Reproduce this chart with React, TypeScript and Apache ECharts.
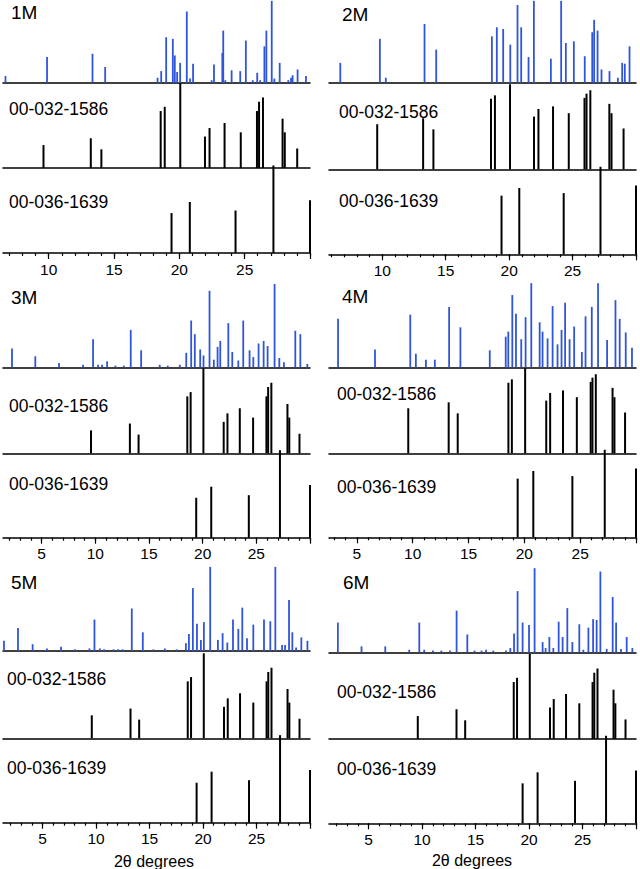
import React, { useEffect, useRef } from "react";
import * as echarts from "echarts";

// ---------------- DATA ----------------
const panelNames = ["1M", "2M", "3M", "4M", "5M", "6M"];
const refName1586 = "00-032-1586";
const refName1639 = "00-036-1639";
const axisTitle = "2θ degrees";

const xMinByPanel = [6.5, 5.8, 1.4, 2.5, 1.3, 1.3];
const xMax = 30;
const majorTickValues = [5, 10, 15, 20, 25, 30];
const tickLabelValues = [5, 10, 15, 20, 25];

// measured patterns: [2θ, relative intensity %]
const pattern1M = [
  [6.69, 8], [9.87, 31], [13.35, 35], [14.32, 19], [18.33, 6], [18.61, 14], [18.99, 55],
  [19.5, 53], [19.65, 33], [19.83, 13], [20.06, 24], [20.57, 86], [20.82, 5], [21.05, 23],
  [22.47, 3], [22.65, 22], [23.29, 36], [23.36, 63], [23.52, 3], [24.0, 15], [24.66, 14],
  [25.09, 51], [25.62, 3], [25.96, 12], [26.18, 3], [26.51, 44], [26.66, 63], [27.07, 99],
  [27.27, 5], [27.68, 24], [28.34, 3], [28.55, 6], [28.67, 9], [29.05, 16], [29.69, 8],
];
const pattern2M = [
  [6.69, 24], [9.81, 53], [10.28, 6], [13.33, 71], [14.25, 40], [18.64, 56], [19.03, 67],
  [19.53, 65], [20.09, 46], [20.66, 94], [20.95, 67], [21.53, 31], [21.95, 99], [23.29, 29],
  [24.1, 99], [24.47, 48], [25.1, 50], [25.96, 32], [26.55, 61], [26.7, 76], [26.97, 63],
  [27.28, 16], [27.91, 14], [28.57, 6], [28.91, 24], [29.12, 23], [29.49, 44],
];
const pattern3M = [
  [2.24, 22], [4.41, 13], [6.62, 5], [8.86, 3], [9.79, 33], [10.26, 3], [10.63, 3], [11.1, 7],
  [11.87, 2], [12.65, 2], [13.3, 44], [14.27, 20], [16.0, 3], [16.75, 2], [17.87, 3],
  [18.47, 17], [18.93, 55], [19.27, 39], [19.77, 21], [20.08, 14], [20.64, 90], [21.04, 9],
  [21.39, 24], [21.64, 31], [22.39, 52], [22.76, 18], [23.32, 8], [23.78, 55], [24.37, 20],
  [24.72, 12], [25.21, 28], [25.68, 31], [26.05, 25], [26.7, 98], [27.14, 11], [27.57, 6],
  [28.63, 43], [29.1, 39], [29.75, 4],
];
const pattern4M = [
  [3.31, 57], [6.62, 21], [9.78, 62], [10.28, 16], [11.18, 9], [11.98, 9], [13.26, 71],
  [14.27, 47], [16.9, 20], [18.33, 36], [18.56, 42], [18.92, 85], [19.25, 63], [19.72, 33],
  [20.11, 59], [20.62, 99], [21.37, 53], [21.63, 42], [22.08, 34], [22.53, 72], [22.97, 27],
  [23.33, 44], [23.65, 76], [24.05, 33], [24.46, 48], [25.15, 18], [25.48, 60], [26.04, 71],
  [26.6, 99], [27.41, 32], [28.16, 79], [28.54, 57], [29.08, 41], [29.64, 23],
];
const pattern5M = [
  [1.39, 12], [2.7, 27], [4.07, 8], [5.41, 3], [6.72, 5], [8.03, 2], [9.38, 3], [9.85, 37],
  [10.35, 3], [10.75, 2], [11.63, 2], [12.06, 2], [12.47, 2], [13.34, 50], [14.37, 22],
  [15.37, 2], [16.43, 3], [17.53, 2], [18.4, 9], [18.68, 20], [19.05, 74], [19.43, 32],
  [19.8, 13], [20.08, 34], [20.67, 99], [21.39, 13], [21.83, 21], [22.27, 10], [22.8, 37],
  [23.3, 26], [23.67, 51], [24.11, 15], [24.7, 31], [25.7, 37], [26.29, 35], [26.76, 99],
  [27.39, 7], [27.67, 7], [28.04, 60], [28.35, 22], [28.7, 4], [29.19, 16], [29.76, 12],
];
const pattern6M = [
  [2.13, 35], [4.34, 7], [6.56, 7], [8.8, 3], [9.74, 35], [10.2, 3], [11.02, 2], [11.8, 2],
  [12.61, 2], [13.23, 49], [14.23, 21], [14.91, 2], [15.56, 2], [15.98, 3], [16.66, 2],
  [17.85, 2], [18.25, 5], [18.6, 22], [18.93, 72], [19.4, 35], [20.0, 32], [20.52, 99],
  [21.27, 12], [21.55, 5], [21.9, 18], [22.27, 5], [22.77, 36], [23.14, 18], [23.58, 52],
  [24.05, 12], [24.7, 33], [25.08, 3], [25.55, 29], [25.99, 39], [26.32, 38], [26.67, 95],
  [27.26, 4], [27.82, 65], [28.14, 35], [28.6, 4], [29.13, 18], [29.66, 5],
];
const patterns = [pattern1M, pattern2M, pattern3M, pattern4M, pattern5M, pattern6M];

// reference 00-032-1586
const ref1586Positions = [9.6, 13.22, 14.03, 18.57, 18.88, 20.07, 21.96, 22.31, 23.46, 24.7, 25.94, 26.1, 26.4, 27.9, 28.07, 29.02];
const ref1586HeightsA = [27, 35, 22, 67, 72, 100, 37, 47, 53, 42, 67, 78, 83, 58, 42, 23];
const ref1586HeightsB = [53, 60, 47, 83, 87, 100, 62, 71, 74, 66, 84, 89, 93, 77, 66, 48];
// reference 00-036-1639
const ref1639Positions = [19.4, 20.8, 24.3, 27.2, 30.0];
const ref1639HeightsA = [47, 60, 50, 103, 62];
const ref1639HeightsB = [69, 78, 72, 103, 81];
const refScaleByPanel = ["A", "B", "A", "B", "A", "A"];

// ---------------- LAYOUT ----------------
const PLOT_H = 85;
const colLeft = [3, 329];
const colWidth = 307;
const baselines = [
  [82.7, 168, 253],
  [82.7, 169.3, 254.3],
  [367.3, 453.3, 537.7],
  [367.3, 453.3, 537.3],
  [651, 738.3, 822.7],
  [652.3, 739, 823.3],
];
const titlePos = [[11, 12], [342, 14], [11, 297], [342, 296], [11, 582], [343, 582]];
const label1586Pos = [[9, 109], [339, 112], [9, 406], [337, 394], [7, 679], [337, 692]];
const label1639Pos = [[9, 202], [339, 201], [9, 484], [337, 487], [7, 768], [337, 769]];
const axisTitlePos = [[154, 861], [472, 860]];

const FONT = "'Liberation Sans', Arial, sans-serif";
const BLUE = "#2f55d9";
const BLACK = "#000000";

function stickSeries(xIdx: number, yIdx: number, data: number[][], color: string, width: number) {
  return {
    type: "custom",
    xAxisIndex: xIdx,
    yAxisIndex: yIdx,
    clip: false,
    encode: { x: 0, y: 1 },
    data,
    renderItem: (_p: any, api: any) => {
      const x = api.value(0);
      const h = api.value(1);
      const p0 = api.coord([x, 0]);
      const p1 = api.coord([x, h]);
      return {
        type: "line",
        shape: { x1: p0[0], y1: p0[1], x2: p1[0], y2: p1[1] },
        style: { stroke: color, lineWidth: width },
      };
    },
  };
}

function buildOption() {
  const grid: any[] = [];
  const xAxis: any[] = [];
  const yAxis: any[] = [];
  const series: any[] = [];
  const graphic: any[] = [];

  panelNames.forEach((name, p) => {
    const col = p % 2;
    const xMin = xMinByPanel[p];
    const scale = refScaleByPanel[p];
    const h1586 = scale === "A" ? ref1586HeightsA : ref1586HeightsB;
    const h1639 = scale === "A" ? ref1639HeightsA : ref1639HeightsB;
    const subData = [
      patterns[p],
      ref1586Positions.map((x, i) => [x, h1586[i]]),
      ref1639Positions.map((x, i) => [x, h1639[i]]),
    ];
    const minorTicks: number[] = [];
    for (let v = Math.ceil(xMin); v <= xMax; v++) minorTicks.push(v);

    for (let s = 0; s < 3; s++) {
      const gi = grid.length;
      const base = baselines[p][s];
      grid.push({ left: colLeft[col], width: colWidth, top: base - PLOT_H, height: PLOT_H });
      const isBottom = s === 2;
      const xi = xAxis.length;
      xAxis.push({
        type: "value",
        gridIndex: gi,
        min: xMin,
        max: xMax,
        position: "bottom",
        axisLine: { show: true, onZero: false, lineStyle: { color: BLACK, width: 1.5 } },
        axisTick: isBottom
          ? { show: true, customValues: majorTickValues.filter((v) => v >= xMin), length: 6, lineStyle: { color: BLACK, width: 1.2 } }
          : { show: false },
        axisLabel: isBottom
          ? { show: true, customValues: tickLabelValues.filter((v) => v >= xMin), fontSize: 15.5, color: BLACK, fontFamily: FONT, margin: 8 }
          : { show: false },
        splitLine: { show: false },
      });
      if (isBottom) {
        xAxis.push({
          type: "value",
          gridIndex: gi,
          min: xMin,
          max: xMax,
          position: "bottom",
          axisLine: { show: false },
          axisTick: { show: true, customValues: minorTicks, length: 3, lineStyle: { color: BLACK, width: 1.2 } },
          axisLabel: { show: false },
          splitLine: { show: false },
        });
      }
      const yi = yAxis.length;
      yAxis.push({ type: "value", gridIndex: gi, min: 0, max: 100, show: false, splitLine: { show: false } });
      series.push(stickSeries(xi, yi, subData[s], s === 0 ? BLUE : BLACK, s === 0 ? 1.8 : 2));
    }

    graphic.push({
      type: "text", x: titlePos[p][0], y: titlePos[p][1],
      style: { text: name, fontSize: 19, fontFamily: FONT, fill: BLACK, verticalAlign: "middle", align: "left" },
    });
    graphic.push({
      type: "text", x: label1586Pos[p][0], y: label1586Pos[p][1],
      style: { text: refName1586, fontSize: 17.5, fontFamily: FONT, fill: BLACK, verticalAlign: "middle", align: "left" },
    });
    graphic.push({
      type: "text", x: label1639Pos[p][0], y: label1639Pos[p][1],
      style: { text: refName1639, fontSize: 17.5, fontFamily: FONT, fill: BLACK, verticalAlign: "middle", align: "left" },
    });
  });

  axisTitlePos.forEach(([x, y]) => {
    graphic.push({
      type: "text", x, y,
      style: { text: axisTitle, fontSize: 16, fontFamily: FONT, fill: BLACK, verticalAlign: "middle", align: "center" },
    });
  });

  return {
    animation: false,
    backgroundColor: "#ffffff",
    grid,
    xAxis,
    yAxis,
    series,
    graphic,
  };
}

export default function App() {
  const ref = useRef<HTMLDivElement>(null);
  useEffect(() => {
    if (!ref.current) return;
    const chart = echarts.init(ref.current, undefined, { renderer: "svg" });
    chart.setOption(buildOption() as any);
    return () => chart.dispose();
  }, []);
  return (
    <div
      ref={ref}
      style={{ position: "fixed", left: 0, top: 0, width: 640, height: 869, background: "#fff" }}
    />
  );
}
